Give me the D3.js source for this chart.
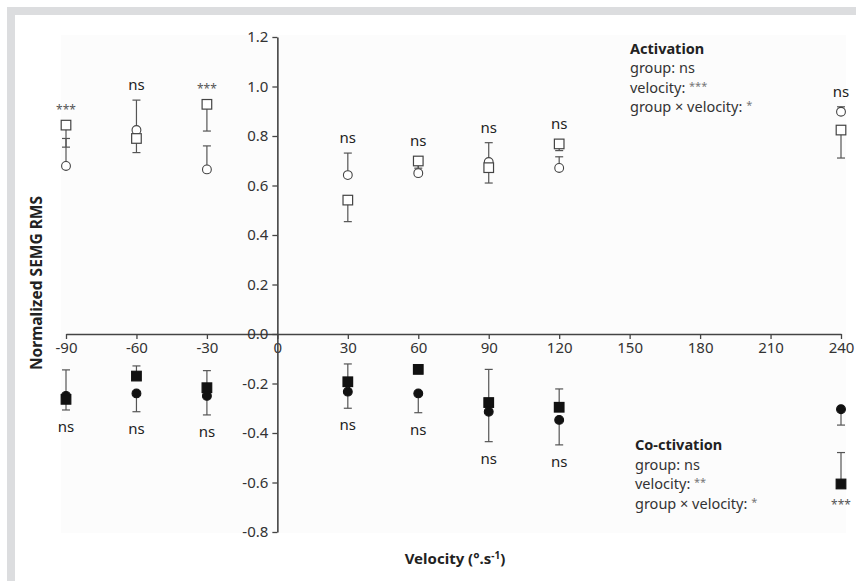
<!DOCTYPE html>
<html>
<head>
<meta charset="utf-8">
<script src="https://cdn.jsdelivr.net/npm/d3@7"></script>
<style>
  body { margin: 0; background: #fff; }
  svg { display: block; font-family: "Noto Sans", "Open Sans", sans-serif; }
</style>
</head>
<body>
<svg id="chart" width="856" height="581"></svg>
<script>
// velocities (deg/s) where both groups were measured
const velocities = [-90, -60, -30, 30, 60, 90, 120, 240];
const xTicks = [-90, -60, -30, 0, 30, 60, 90, 120, 150, 180, 210, 240];
const yTicks = [-0.8, -0.6, -0.4, -0.2, 0.0, 0.2, 0.4, 0.6, 0.8, 1.0, 1.2];

// Activation (open markers)
const actSquare     = [0.844, 0.790, 0.928, 0.541, 0.699, 0.672, 0.768, 0.824];
const actSquareLow  = [0.755, 0.733, 0.820, 0.454, 0.670, 0.610, 0.741, 0.711];
const actCircle     = [0.679, 0.824, 0.665, 0.642, 0.650, 0.695, 0.671, 0.898];
const actCircleHigh = [0.790, 0.945, 0.760, 0.731, 0.683, 0.773, 0.716, 0.918];
const actSig = ["***", "ns", "***", "ns", "ns", "ns", "ns", "ns"];

// Co-activation (filled markers)
const coSquare     = [-0.264, -0.170, -0.217, -0.193, -0.143, -0.277, -0.296, -0.606];
const coSquareHigh = [-0.145, -0.129, -0.148, -0.121, -0.125, -0.143, -0.222, -0.479];
const coCircle     = [-0.250, -0.240, -0.250, -0.233, -0.240, -0.314, -0.347, -0.304];
const coCircleLow  = [-0.307, -0.314, -0.327, -0.300, -0.318, -0.435, -0.448, -0.368];
const coSig = ["ns", "ns", "ns", "ns", "ns", "ns", "ns", "***"];

const actStats = [["group: ", "ns"], ["velocity: ", "***"], ["group \u00d7 velocity: ", "*"]];
const coStats  = [["group: ", "ns"], ["velocity: ", "**"], ["group \u00d7 velocity: ", "*"]];

const svg = d3.select("#chart");
const FS = "15px";

// frame
svg.append("rect").attr("x", 7).attr("y", 7).attr("width", 849).attr("height", 8).attr("fill", "#dcdddf");
svg.append("rect").attr("x", 7).attr("y", 7).attr("width", 8).attr("height", 574).attr("fill", "#dcdddf");
svg.append("rect").attr("x", 61).attr("y", 35).attr("width", 785).attr("height", 498).attr("fill", "#fcfcfc");

const x = d3.scaleLinear().domain([-90, 240]).range([66, 841]);
const y = d3.scaleLinear().domain([-0.8, 1.2]).range([532, 37]);

// axes
const xAxis = svg.append("g")
  .attr("transform", `translate(0,${y(0)})`)
  .call(d3.axisBottom(x).tickValues(xTicks).tickFormat(d => String(d)).tickSize(5).tickSizeOuter(0).tickPadding(3));

const yAxis = svg.append("g")
  .attr("transform", `translate(${x(0)},0)`)
  .call(d3.axisLeft(y).tickValues(yTicks).tickFormat(d => d.toFixed(1)).tickSize(5).tickSizeOuter(0).tickPadding(4));

[xAxis, yAxis].forEach(g => {
  g.select(".domain").attr("stroke", "#444").attr("stroke-width", 1.6);
  g.selectAll(".tick line").attr("stroke", "#444").attr("stroke-width", 1.3);
  g.selectAll(".tick text").attr("fill", "#333").style("font-size", FS).style("font-family", "'Noto Sans', sans-serif");
});

// axis titles
svg.append("text")
  .attr("transform", "translate(36,283) rotate(-90)")
  .attr("text-anchor", "middle").attr("dominant-baseline", "central")
  .style("font-size", "15.5px").style("font-weight", "bold").attr("fill", "#222")
  .text("Normalized SEMG RMS");

const xt = svg.append("text")
  .attr("x", 455).attr("y", 564)
  .attr("text-anchor", "middle")
  .style("font-size", FS).style("font-weight", "bold").attr("fill", "#222");
xt.append("tspan").text("Velocity (\u00b0.s");
xt.append("tspan").attr("dy", -5).style("font-size", "10px").text("-1");
xt.append("tspan").attr("dy", 5).text(")");

// error bars
const bars = [];
velocities.forEach((v, i) => {
  bars.push([v, actSquare[i], actSquareLow[i]]);
  bars.push([v, actCircle[i], actCircleHigh[i]]);
  bars.push([v, coSquare[i], coSquareHigh[i]]);
  bars.push([v, coCircle[i], coCircleLow[i]]);
});
const eb = svg.append("g").attr("stroke", "#555").attr("stroke-width", 1.2);
eb.selectAll("line.v").data(bars).join("line")
  .attr("x1", d => x(d[0])).attr("x2", d => x(d[0]))
  .attr("y1", d => y(d[1])).attr("y2", d => y(d[2]));
eb.selectAll("line.c").data(bars).join("line")
  .attr("x1", d => x(d[0]) - 4).attr("x2", d => x(d[0]) + 4)
  .attr("y1", d => y(d[2])).attr("y2", d => y(d[2]));

// markers
const mk = svg.append("g");
function squares(vals, filled) {
  mk.selectAll(null).data(velocities).join("rect")
    .attr("x", d => x(d) - 4.8).attr("y", (d, i) => y(vals[i]) - 4.8)
    .attr("width", 9.6).attr("height", 9.6)
    .attr("fill", filled ? "#111" : "#fff")
    .attr("stroke", filled ? "#111" : "#444").attr("stroke-width", 1.2);
}
function circles(vals, filled) {
  mk.selectAll(null).data(velocities).join("circle")
    .attr("cx", d => x(d)).attr("cy", (d, i) => y(vals[i]))
    .attr("r", 4.4)
    .attr("fill", filled ? "#111" : "#fff")
    .attr("stroke", filled ? "#111" : "#444").attr("stroke-width", 1.1);
}
circles(actCircle, false);
squares(actSquare, false);
circles(coCircle, true);
squares(coSquare, true);

// significance labels
function sigStyle(sel) {
  sel.attr("text-anchor", "middle")
    .style("font-size", d => d === "ns" ? FS : "12px")
    .attr("fill", d => d === "ns" ? "#222" : "#555");
}
svg.selectAll(null).data(actSig).join("text")
  .attr("x", (d, i) => x(velocities[i]))
  .attr("y", (d, i) => {
    const top = Math.min(y(actSquare[i]) - 5, y(actCircle[i]) - 5, y(actCircleHigh[i]));
    return top - (d === "ns" ? 10 : 6);
  })
  .call(sigStyle).text(d => d);
svg.selectAll(null).data(coSig).join("text")
  .attr("x", (d, i) => x(velocities[i]))
  .attr("y", (d, i) => {
    const bot = Math.max(y(coSquare[i]) + 5, y(coCircle[i]) + 5, y(coCircleLow[i]));
    return bot + (d === "ns" ? 22 : 20);
  })
  .call(sigStyle).text(d => d);

// stats blocks
function statsBlock(x0, y0, title, rows, lh) {
  const g = svg.append("g").attr("transform", `translate(${x0},${y0})`);
  g.append("text").style("font-size", "14.5px").style("font-weight", "bold").attr("fill", "#222").text(title);
  rows.forEach((r, i) => {
    const t = g.append("text").attr("y", (i + 1) * lh).style("font-size", "14.5px").attr("fill", "#333");
    t.append("tspan").text(r[0]);
    if (r[1] === "ns") {
      t.append("tspan").text(r[1]);
    } else {
      t.append("tspan").attr("dy", -3).style("font-size", "11px").attr("fill", "#777").text(r[1]);
    }
  });
}
statsBlock(630, 53.5, "Activation", actStats, 19.5);
statsBlock(635, 450, "Co-ctivation", coStats, 19.5);
</script>
</body>
</html>
